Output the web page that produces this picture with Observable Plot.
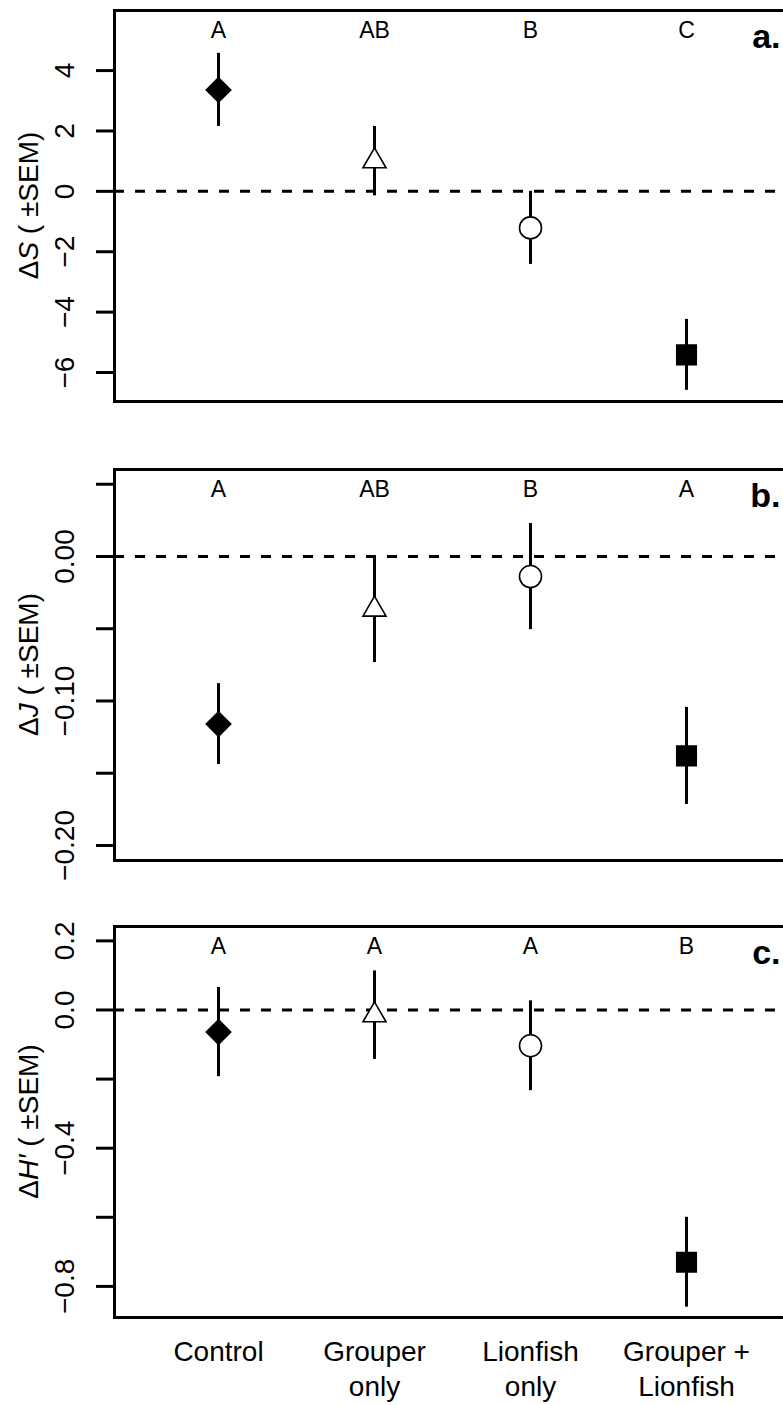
<!DOCTYPE html>
<html><head><meta charset="utf-8">
<script src="https://cdn.jsdelivr.net/npm/d3@7"></script>
<script src="https://cdn.jsdelivr.net/npm/@observablehq/plot@0.6"></script>
<style>
html,body{margin:0;padding:0;background:#fff;overflow:hidden;}
#chart{width:783px;height:1405px;overflow:hidden;position:relative;}
#chart svg{display:block;max-width:none !important;}
svg g[aria-label^="y-axis"] line, svg g[aria-label^="y-axis"] path{stroke-width:3px;}
</style></head><body><div id="chart"></div>
<script>
const categories = ["Control", "Grouper only", "Lionfish only", "Grouper + Lionfish"];
const xLabels = ["Control", "Grouper\nonly", "Lionfish\nonly", "Grouper +\nLionfish"];

const richnessMean = [3.36, 1.0, -1.21, -5.415];
const richnessSem = [1.21, 1.15, 1.21, 1.175];
const richnessLetters = ["A", "AB", "B", "C"];
const richnessTicks = [-6, -4, -2, 0, 2, 4];
const richnessTickLabels = ["−6", "−4", "−2", "0", "2", "4"];

const evennessMean = [-0.116, -0.0367, -0.0139, -0.138];
const evennessSem = [0.028, 0.0367, 0.0367, 0.0336];
const evennessLetters = ["A", "AB", "B", "A"];
const evennessTicks = [-0.20, -0.15, -0.10, -0.05, 0, 0.05];
const evennessTickLabels = ["−0.20", "", "−0.10", "", "0.00", ""];

const diversityMean = [-0.064, -0.015, -0.1035, -0.73];
const diversitySem = [0.129, 0.128, 0.13, 0.13];
const diversityLetters = ["A", "A", "A", "B"];
const diversityTicks = [-0.8, -0.6, -0.4, -0.2, 0, 0.2];
const diversityTickLabels = ["−0.8", "", "−0.4", "", "0.0", "0.2"];

const FONT = "'Liberation Sans', Arial, Helvetica, sans-serif";
const filledGroups = new Set([categories[0], categories[3]]);

function panel(opts) {
  const {mean, sem, letters, ticks, tickLabels, domain, height, mt, mb, tag, labelParts, showX} = opts;
  const data = categories.map((c, i) => ({cat: c, mean: mean[i], lo: mean[i] - sem[i], hi: mean[i] + sem[i], letter: letters[i]}));
  const marks = [
    Plot.ruleY([0], {stroke: "black", strokeWidth: 3, strokeDasharray: "10,11"}),
    Plot.ruleX(data, {x: "cat", y1: "lo", y2: "hi", stroke: "black", strokeWidth: 3}),
    Plot.dot(data, {x: "cat", y: "mean", symbol: "cat", r: 11, stroke: "black", strokeWidth: 1.6,
      fill: d => filledGroups.has(d.cat) ? "black" : "white"}),
    Plot.text(data, {x: "cat", text: "letter", frameAnchor: "top", lineAnchor: "bottom", dy: 27, fontSize: 23, fill: "black"}),
    Plot.text([tag], {text: d => d, frameAnchor: "top-right", textAnchor: "end", lineAnchor: "bottom", dy: 37, dx: -10, fontSize: 34, fontWeight: "bold", fill: "black"}),
    Plot.frame({stroke: "black", strokeWidth: 3})
  ];
  if (showX) {
    marks.push(Plot.text(categories, {x: d => d, text: (d, i) => xLabels[i], frameAnchor: "bottom", lineAnchor: "top", dy: 18, lineHeight: 1.27, fontSize: 28, fill: "black"}));
  }
  const svg = Plot.plot({
    width: 790, height, marginLeft: 114, marginRight: 0, marginTop: mt, marginBottom: mb,
    style: {fontFamily: FONT, fontSize: "28px", color: "black", background: "white", maxWidth: "none"},
    x: {type: "point", domain: categories, padding: 0.662, axis: null},
    y: {domain, ticks, tickFormat: v => tickLabels[ticks.indexOf(v)] ?? "", tickSize: 18, tickPadding: 23, tickRotate: -90, label: null},
    symbol: {domain: categories, range: ["diamond2", "triangle2", "circle", "square"]},
    color: {type: "identity"},
    marks
  });
  const innerH = height - mt - mb;
  const t = d3.select(svg).append("text")
    .attr("transform", `translate(28,${mt + innerH / 2}) rotate(-90)`)
    .attr("text-anchor", "middle").attr("dominant-baseline", "central")
    .attr("font-family", FONT).attr("font-size", 28).attr("fill", "black");
  labelParts.forEach(([s, it]) => {
    const ts = t.append("tspan").text(s);
    if (it) ts.attr("font-style", "italic");
  });
  return svg;
}

const root = document.getElementById("chart");
root.appendChild(panel({mean: richnessMean, sem: richnessSem, letters: richnessLetters, ticks: richnessTicks, tickLabels: richnessTickLabels,
  domain: [-6.96, 5.99], height: 460, mt: 10, mb: 59, tag: "a.", labelParts: [["Δ", false], ["S", true], [" ( ±SEM)", false]]}));
root.appendChild(panel({mean: evennessMean, sem: evennessSem, letters: evennessLetters, ticks: evennessTicks, tickLabels: evennessTickLabels,
  domain: [-0.2104, 0.0602], height: 460, mt: 9, mb: 60, tag: "b.", labelParts: [["Δ", false], ["J", true], [" ( ±SEM)", false]]}));
root.appendChild(panel({mean: diversityMean, sem: diversitySem, letters: diversityLetters, ticks: diversityTicks, tickLabels: diversityTickLabels,
  domain: [-0.890, 0.2416], height: 485, mt: 6, mb: 88, tag: "c.", labelParts: [["Δ", false], ["H′", true], [" ( ±SEM)", false]], showX: true}));
</script></body></html>
